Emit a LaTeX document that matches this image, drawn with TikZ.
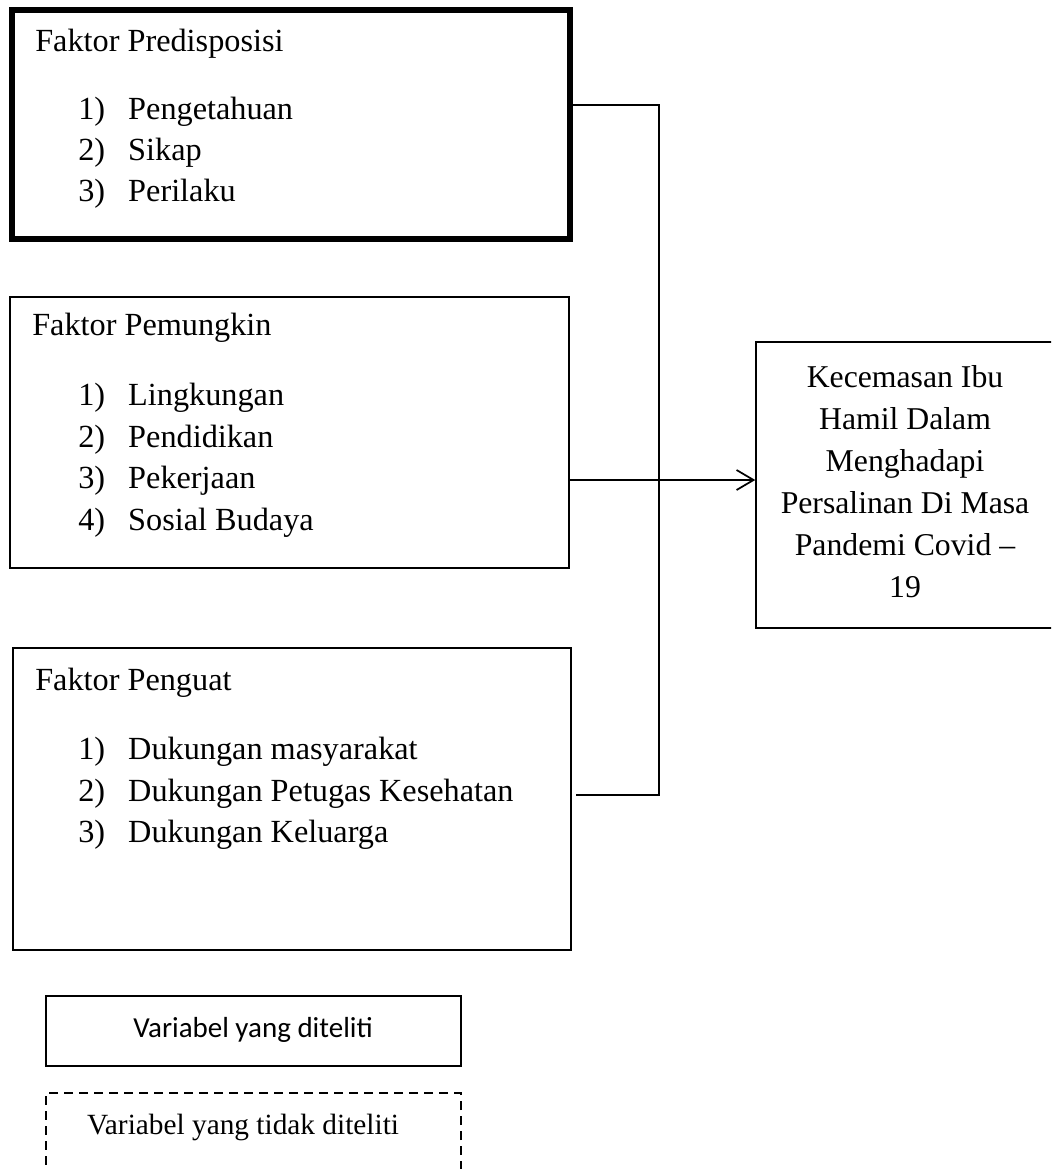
\documentclass[tikz,border=0pt]{standalone}
\usepackage{fontspec}
\setmainfont{Liberation Serif}
\newfontfamily\legendfont{Carlito}
\usetikzlibrary{fit,arrows.meta}
\begin{document}
\begin{tikzpicture}[x=0.75pt,y=-0.75pt,
  boxthin/.style={draw=black, line width=1.1pt, inner sep=0pt},
  boxthick/.style={draw=black, line width=4.1pt, inner sep=0pt},
  legbox/.style={draw=black, line width=1.5pt, inner sep=0pt},
  legdash/.style={draw=black, line width=1.5pt, inner sep=0pt, dash pattern=on 6.75pt off 4.5pt},
  lbl/.style={anchor=base west, inner sep=0pt, font=\fontsize{24.2}{29}\selectfont},
  outtext/.style={align=center, inner sep=0pt, font=\fontsize{23.8}{31.5}\selectfont},
  conn/.style={line width=1.3pt},
  arr/.style={conn, -{Straight Barb[length=12.75pt,width=15pt]}}]
\path[use as bounding box] (0,0) rectangle (1051,1169);
\clip (0,0) rectangle (1051,1169);

% boxes
\node[boxthick, fit={(12,10) (570,239)}] (box1) {};
\node[boxthin, fit={(10,297) (569,568)}] (box2) {};
\node[boxthin, fit={(13,648) (571,950)}] (box3) {};
\node[boxthin, fit={(756,342) (1070,628)}] (out) {};
\node[legbox, fit={(46,996) (461,1066)}] (leg1) {};
\node[legdash, fit={(46,1093) (461,1190)}] (leg2) {};

% box 1 text
\node[lbl] (t1) at (35,52) {Faktor Predisposisi};
\node[lbl] (t1a) at (78,120) {\makebox[37.5pt][l]{1)}Pengetahuan};
\node[lbl] (t1b) at (78,161) {\makebox[37.5pt][l]{2)}Sikap};
\node[lbl] (t1c) at (78,202) {\makebox[37.5pt][l]{3)}Perilaku};

% box 2 text
\node[lbl] (t2) at (32,335) {Faktor Pemungkin};
\node[lbl] (t2a) at (78,405) {\makebox[37.5pt][l]{1)}Lingkungan};
\node[lbl] (t2b) at (78,447) {\makebox[37.5pt][l]{2)}Pendidikan};
\node[lbl] (t2c) at (78,488) {\makebox[37.5pt][l]{3)}Pekerjaan};
\node[lbl] (t2d) at (78,530) {\makebox[37.5pt][l]{4)}Sosial Budaya};

% box 3 text
\node[lbl] (t3) at (35,690) {Faktor Penguat};
\node[lbl] (t3a) at (78,759) {\makebox[37.5pt][l]{1)}Dukungan masyarakat};
\node[lbl] (t3b) at (78,801) {\makebox[37.5pt][l]{2)}Dukungan Petugas Kesehatan};
\node[lbl] (t3c) at (78,842) {\makebox[37.5pt][l]{3)}Dukungan Keluarga};

% outcome text
\node[outtext] (tout) at (905,482) {Kecemasan Ibu\\Hamil Dalam\\Menghadapi\\Persalinan Di Masa\\Pandemi Covid --\\19};

% legend text
\node[inner sep=0pt, font=\legendfont\fontsize{21.75}{26}\selectfont] (tl1) at (253,1030) {Variabel yang diteliti};
\node[inner sep=0pt, font=\fontsize{22}{26}\selectfont] (tl2) at (243,1127) {Variabel yang tidak diteliti};

% connectors
\coordinate (j1) at (659,105);
\coordinate (j3) at (659,795);
\coordinate (c3) at (576,795);
\coordinate (a2) at (569,480);
\draw[conn] (box1.east |- j1) -- (j1) -- (j3) -- (c3);
\draw[arr] (a2) -- (out.west |- a2);
\end{tikzpicture}
\end{document}
